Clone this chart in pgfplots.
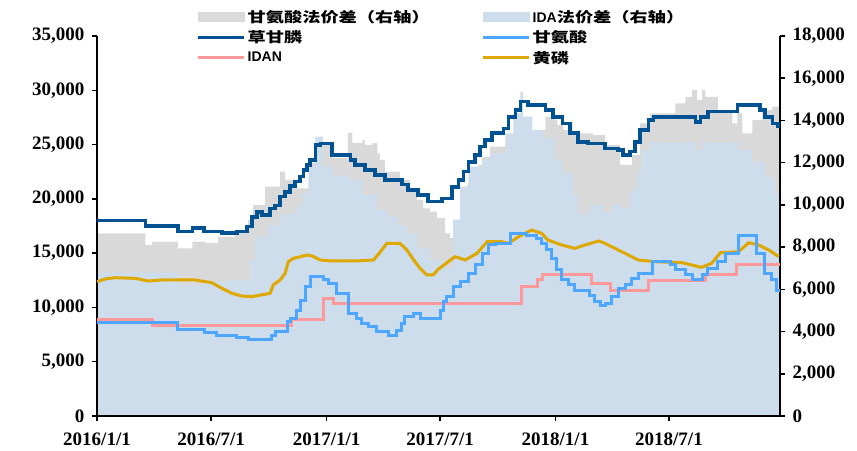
\documentclass[border=0pt]{standalone}
\usepackage{fontspec}
\setmainfont{Liberation Serif}
\newfontfamily\cjk{Noto Sans CJK SC}[FakeStretch=1.3]
\newfontfamily\lsans{Liberation Sans}
\usepackage{pgfplots}
\pgfplotsset{compat=1.18}
\definecolor{cgl}{RGB}{0,82,147}
\definecolor{gas}{RGB}{77,166,255}
\definecolor{idan}{RGB}{255,153,153}
\definecolor{hl}{RGB}{222,168,0}
\definecolor{grayA}{RGB}{217,217,217}
\definecolor{idaA}{RGB}{206,221,235}
\newcommand{\tickfont}{\fontsize{19bp}{19bp}\selectfont\bfseries}
\pgfplotsset{
  common/.style={
    at={(0,0)}, anchor=south west, scale only axis,
    width=683bp, height=380bp, xmin=0, xmax=1089,
    axis line style={-, line width=1.5bp, black},
    tick align=outside, major tick length=5bp,
    tick style={line width=1.5bp, black},
    scaled y ticks=false,
    /pgf/number format/assume math mode=true,
    /pgf/number format/1000 sep={,},
    ticklabel style={font=\tickfont},
  }
}
\begin{document}
\begin{tikzpicture}
% right axis: areas
\begin{axis}[common, ymin=0, ymax=18000,
  axis x line=none, axis y line*=right,
  ytick={0,2000,...,18000},
  yticklabel style={xshift=4bp},
  axis on top]
\addplot[const plot, fill=grayA, draw=none] coordinates {
(0,8650)(77,8100)(88,8260)(129,7940)(152,8260)(172,8200)(193,8500)(220,8730)
(241,9280)(249,10000)(268,10860)(292,11570)(300,11180)(316,10780)(340,12000)
(351,13150)(360,12920)(375,12210)(400,13420)(407,12920)(423,13070)(427,12840)
(439,12920)(447,12440)(451,12130)(459,11570)(483,11180)(499,10710)(510,10230)
(520,9840)(531,9680)(542,9370)(555,8650)(563,8420)(568,9280)(579,9910)
(590,10940)(595,11180)(608,11890)(614,12280)(627,12760)(651,13000)(699,13550)
(715,14180)(731,14020)(734,13780)(743,13550)(758,13940)(759,13390)(791,13310)
(810,12840)(834,11890)(853,12360)(866,13860)(882,14340)(922,14810)(938,15120)
(949,15440)(957,14970)(965,15440)(970,15120)(990,14410)(1013,13860)(1021,14340)
(1029,13390)(1045,14020)(1061,14500)(1077,14650)(1089,14650)} \closedcycle;
\addplot[const plot, fill=idaA, draw=none] coordinates {
(0,6790)(129,6200)(172,6360)(209,6440)(244,7390)(252,8490)(273,9050)(292,9600)
(316,9910)(327,10550)(337,11810)(348,13230)(360,11810)(376,11400)(404,11180)
(424,10470)(447,9760)(463,9440)(479,9050)(494,8650)(510,7940)(531,7390)
(552,7000)(568,9300)(579,10860)(592,11810)(614,12130)(627,12440)(651,13390)
(664,14340)(675,15360)(679,14180)(694,13550)(710,13150)(730,12130)(742,11500)
(759,10470)(767,9600)(786,10000)(807,9680)(821,10000)(837,9840)(850,10710)
(861,11650)(869,12600)(882,12990)(954,12600)(965,12990)(1022,12600)(1045,12050)
(1065,11340)(1081,10550)(1089,10550)} \closedcycle;
\end{axis}
% left axis: lines
\begin{axis}[common, ymin=0, ymax=35000,
  axis x line*=bottom, axis y line*=left,
  ytick={0,5000,...,35000},
  xtick={0,182,366,547,731,912},
  xticklabels={2016/1/1,2016/7/1,2017/1/1,2017/7/1,2018/1/1,2018/7/1},
  yticklabel style={xshift=-4bp},
  xticklabel style={yshift=-8bp},
  legend columns=2, legend cell align=left,
  legend style={draw=none, fill=none, inner sep=0pt,
    at={(rel axis cs:0.145,1.074)}, anchor=north west,
    font=\fontsize{14bp}{16bp}\selectfont\bfseries,
    /tikz/every even column/.append style={column sep=50bp},
    row sep=3bp}]
\addlegendimage{legend image code/.code={\fill[grayA] (0bp,-4.5bp) rectangle (46bp,4.5bp);}}
\addlegendentry{{\cjk 甘氨酸法价差（右轴）}}
\addlegendimage{legend image code/.code={\fill[idaA] (0bp,-4.5bp) rectangle (46bp,4.5bp);}}
\addlegendentry{{\lsans IDA}{\cjk 法价差（右轴）}}
\addlegendimage{legend image code/.code={\draw[cgl, line width=3.5bp] (0bp,0bp) -- (46bp,0bp);}}
\addlegendentry{{\cjk 草甘膦}}
\addlegendimage{legend image code/.code={\draw[gas, line width=3bp] (0bp,0bp) -- (46bp,0bp);}}
\addlegendentry{{\cjk 甘氨酸}}
\addlegendimage{legend image code/.code={\draw[idan, line width=3bp] (0bp,0bp) -- (46bp,0bp);}}
\addlegendentry{{\lsans IDAN}}
\addlegendimage{legend image code/.code={\draw[hl, line width=3bp] (0bp,0bp) -- (46bp,0bp);}}
\addlegendentry{{\cjk 黄磷}}
% 黄磷
\addplot[hl, line width=3bp, forget plot] coordinates {
(0,12370)(13,12620)(29,12740)(61,12680)(81,12430)(103,12530)(156,12530)(183,12280)
(199,11760)(215,11300)(231,11050)(247,10990)(276,11300)(281,12070)(292,12530)
(300,13140)(305,14210)(313,14520)(324,14670)(335,14830)(343,14740)(356,14370)
(372,14280)(414,14280)(441,14370)(452,15130)(462,15900)(483,15900)(494,15290)
(505,14370)(515,13600)(526,12990)(536,12990)(544,13510)(560,14210)(571,14670)
(587,14370)(606,14980)(622,16050)(646,16050)(656,15900)(672,16510)(693,17130)
(709,16820)(719,16210)(741,15750)(762,15440)(778,15750)(800,16120)(810,15900)
(842,14980)(863,14370)(890,14210)(933,14120)(964,13690)(980,14060)(994,15040)
(1023,15130)(1039,15960)(1055,15750)(1071,15290)(1087,14670)};
% IDAN
\addplot[idan, line width=3bp, const plot, forget plot] coordinates {
(0,8900)(89,8380)(310,8900)(361,10840)(377,10380)(677,11910)(703,12530)(711,12990)
(789,12220)(818,11600)(879,12460)(970,12990)(1020,13970)(1089,13970)};
% 甘氨酸
\addplot[gas, line width=3bp, const plot, forget plot] coordinates {
(0,8600)(128,7980)(172,7710)(191,7460)(223,7250)(241,7060)(279,7460)(284,7770)
(303,8690)(308,9000)(318,9760)(324,10680)(332,11910)(340,12830)(361,12530)
(369,12220)(382,11300)(401,9460)(414,9000)(422,8540)(433,8230)(445,7770)
(465,7460)(478,7920)(486,8540)(491,9150)(504,9460)(515,9000)(547,9760)
(552,10530)(558,10990)(568,11910)(579,12370)(592,13140)(603,13910)(614,14980)
(624,15750)(635,15900)(659,16820)(685,16670)(701,16360)(709,15900)(717,15290)
(725,14520)(733,13450)(741,12530)(751,12070)(762,11600)(786,11140)(794,10530)
(802,10220)(810,10380)(821,10990)(831,11760)(842,12070)(853,12680)(863,13140)
(885,14210)(914,13910)(922,13450)(938,12990)(949,12530)(966,12990)(974,13600)
(990,14210)(1002,14980)(1023,16670)(1052,14980)(1065,13140)(1076,12530)
(1084,11600)(1089,11600)};
% 草甘膦
\addplot[cgl, line width=3.5bp, const plot, forget plot] coordinates {
(0,18000)(77,17500)(129,17000)(152,17300)(171,17000)(199,16850)(223,17000)
(239,17450)(247,18350)(255,18800)(263,18500)(276,19100)(284,19400)(292,20200)
(300,20650)(308,21200)(316,21600)(324,22050)(329,22650)(335,23100)(340,23600)
(348,24950)(356,25100)(375,24050)(404,23600)(411,23100)(427,22650)(443,22200)
(459,21750)(486,21300)(496,20800)(512,20350)(528,19750)(550,20050)(566,21100)
(576,21750)(584,22500)(592,23400)(603,24050)(611,24800)(619,25400)(630,26050)
(648,26500)(656,27550)(667,28200)(675,28950)(687,28650)(715,28200)(727,27550)
(742,26950)(754,26050)(767,25250)(783,25100)(810,24650)(831,24500)(839,24050)
(850,24350)(858,25250)(866,26350)(879,27250)(887,27550)(954,27100)(962,27550)
(974,28050)(1021,28650)(1057,28200)(1065,27550)(1077,26950)(1086,26650)(1089,26650)};
\end{axis}
\pgfresetboundingbox
\path (-97bp,-35bp) rectangle (760bp,416bp);
\end{tikzpicture}
\end{document}
